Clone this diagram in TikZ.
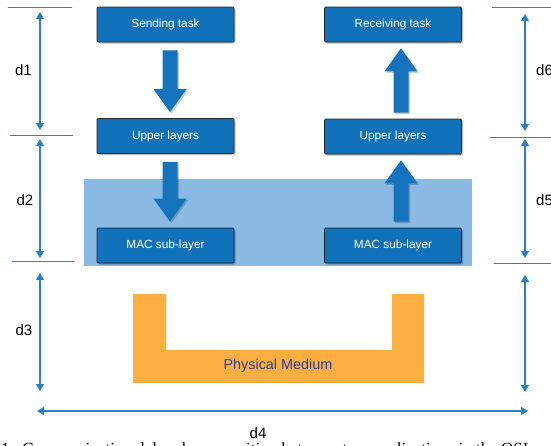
\documentclass[tikz,border=0pt]{standalone}
\usepackage{fontspec}
\setmainfont{Liberation Sans}
\newfontfamily\capfont{Liberation Serif}
\usetikzlibrary{calc,arrows.meta,shadows}
\definecolor{boxblue}{HTML}{1172BA}
\definecolor{arrblue}{HTML}{1473BB}
\definecolor{dimblue}{HTML}{2A80C6}
\definecolor{bandblue}{HTML}{8AB9E3}
\definecolor{orangem}{HTML}{FBAF41}
\definecolor{medtext}{HTML}{2C3D9B}

\newcommand\downblock[3]{%
  \fill[blockarrow] ($(#1.south)+(#3-7.5,8)$) -- ($(#1.south)+(#3+7.5,8)$) -- ($(#2.north)+(#3+7.5,-29)$) -- ($(#2.north)+(#3+16.5,-29)$) -- ($(#2.north)+(#3,-6)$) -- ($(#2.north)+(#3-16.5,-29)$) -- ($(#2.north)+(#3-7.5,-29)$) -- cycle;}
\newcommand\upblock[3]{%
  \fill[blockarrow] ($(#1.north)+(#3-7.5,-6)$) -- ($(#1.north)+(#3+7.5,-6)$) -- ($(#2.south)+(#3+7.5,29)$) -- ($(#2.south)+(#3+16.5,29)$) -- ($(#2.south)+(#3,6)$) -- ($(#2.south)+(#3-16.5,29)$) -- ($(#2.south)+(#3-7.5,29)$) -- cycle;}

\begin{document}
\begin{tikzpicture}[x=1pt,y=-1pt,
  layerbox/.style={draw=black!85, line width=0.7pt, fill=boxblue, rounded corners=1.2pt,
    minimum width=137pt, minimum height=35pt, inner sep=0pt, text=white,
    font=\fontsize{11.8}{13}\selectfont,
    drop shadow={shadow xshift=1.5pt, shadow yshift=-1.5pt, fill=black, opacity=0.25}},
  blockarrow/.style={fill=arrblue,
    drop shadow={shadow xshift=1.5pt, shadow yshift=-1.5pt, fill=black, opacity=0.2}},
  dimline/.style={draw=dimblue, line width=1.2pt,
    {Triangle[width=8pt,length=7pt]}-{Triangle[width=8pt,length=7pt]}},
  sepline/.style={draw=dimblue, line width=0.9pt},
  dimlabel/.style={font=\fontsize{15}{17}\selectfont, inner sep=0pt}
]
\useasboundingbox (0,0) rectangle (551,445);
\clip (0,0) rectangle (551,445);

% MAC band
\fill[bandblue] (84,179) rectangle (472,266);

% physical medium
\fill[orangem] (133,294) -- (166,294) -- (166,350) -- (392,350) -- (392,294)
  -- (424,294) -- (424,383) -- (133,383) -- cycle;
\node[font=\fontsize{14.4}{16}\selectfont, text=medtext, inner sep=0pt] (pm) at (278,366) {Physical Medium};

% layer boxes
\node[layerbox] (sa) at (165.5,24.5) {Sending task};
\node[layerbox] (ul) at (165.5,136) {Upper layers};
\node[layerbox] (ml) at (165.5,245.5) {MAC sub-layer};
\node[layerbox] (rt) at (393,24.5) {Receiving task};
\node[layerbox] (ur) at (393,136.5) {Upper layers};
\node[layerbox] (mr) at (393,245.5) {MAC sub-layer};

% block arrows
\downblock{sa}{ul}{4.5}
\downblock{ul}{ml}{4.5}
\upblock{ur}{rt}{8}
\upblock{mr}{ur}{8}

% left separators
\coordinate (s1a) at (8,7);   \coordinate (s1b) at (72,7);
\coordinate (s2a) at (10,135); \coordinate (s2b) at (73,135);
\coordinate (s3a) at (12,261); \coordinate (s3b) at (75,261);
\draw[sepline] (s1a) -- (s1b);
\draw[sepline] (s2a) -- (s2b);
\draw[sepline] (s3a) -- (s3b);
% right separators
\coordinate (r1a) at (492,7);   \coordinate (r1b) at (551,7);
\coordinate (r2a) at (490,137); \coordinate (r2b) at (551,137);
\coordinate (r3a) at (494,263); \coordinate (r3b) at (551,263);
\draw[sepline] (r1a) -- (r1b);
\draw[sepline] (r2a) -- (r2b);
\draw[sepline] (r3a) -- (r3b);

% left dimensions
\coordinate (d1a) at (40,12);  \coordinate (d1b) at (40,130);
\coordinate (d2a) at (40,139); \coordinate (d2b) at (40,258);
\coordinate (d3a) at (40,273); \coordinate (d3b) at (40,391);
\draw[dimline] (d1a) -- (d1b);
\draw[dimline] (d2a) -- (d2b);
\draw[dimline] (d3a) -- (d3b);
\node[dimlabel] (l1) at (23.5,70) {d1};
\node[dimlabel] (l2) at (25,200) {d2};
\node[dimlabel] (l3) at (24,330) {d3};

% right dimensions
\coordinate (d6a) at (525,14);  \coordinate (d6b) at (525,131);
\coordinate (d5a) at (525,139); \coordinate (d5b) at (525,258);
\coordinate (d7a) at (525,275); \coordinate (d7b) at (525,392);
\draw[dimline] (d6a) -- (d6b);
\draw[dimline] (d5a) -- (d5b);
\draw[dimline] (d7a) -- (d7b);
\node[dimlabel, anchor=west] (l6) at (536,70) {d6};
\node[dimlabel, anchor=west] (l5) at (536,200) {d5};

% horizontal dimension
\coordinate (d4a) at (37,411); \coordinate (d4b) at (528,411);
\draw[dimline] (d4a) -- (d4b);
\node[dimlabel] (l4) at (258,433.5) {d4};

% cut-off caption
\node[anchor=base west, inner sep=0pt, font=\capfont\fontsize{17}{20}\selectfont] (cap) at (1,454)
  {1:\hspace{8pt}Communication delay decomposition between two applications in the OSI model};
\end{tikzpicture}
\end{document}
